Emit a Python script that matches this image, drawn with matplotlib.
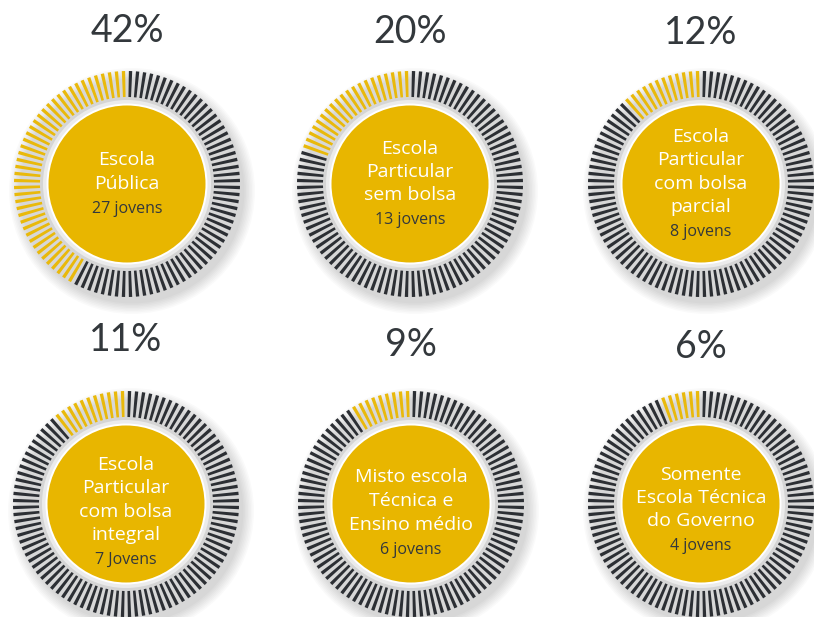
import numpy as np
import matplotlib
matplotlib.use("Agg")
import matplotlib.pyplot as plt
from matplotlib.patches import Wedge, Circle

plt.rcParams['font.family'] = ['Lato', 'DejaVu Sans']

# dados: percentual de jovens por tipo de escola
percentuais = [42, 20, 12, 11, 9, 6]
titulos = [
    "Escola\nPública",
    "Escola\nParticular\nsem bolsa",
    "Escola\nParticular\ncom bolsa\nparcial",
    "Escola\nParticular\ncom bolsa\nintegral",
    "Misto escola\nTécnica e\nEnsino médio",
    "Somente\nEscola Técnica\ndo Governo",
]
contagens = ["27 jovens", "13 jovens", "8 jovens", "7 Jovens", "6 jovens", "4 jovens"]

# layout (pixels)
centros = [(127, 184), (410, 184), (701, 184), (126, 504), (411, 504), (701, 504)]
y_rotulo = [31, 32, 33, 340, 345, 347]
desloc_texto = [0, 0, 0, 8, 9, 6]

AMARELO = "#e9b90b"
ESCURO = "#2c2f34"
DOURADO = "#e8b600"
TEXTO = "#33383c"

N = 100
R_EXT, R_INT = 113, 87

fig = plt.figure(figsize=(8.14, 6.17), dpi=100)
ax = fig.add_axes([0, 0, 1, 1])
ax.set_xlim(0, 814)
ax.set_ylim(617, 0)
ax.axis('off')

for k, (cx, cy) in enumerate(centros):
    # sombra suave
    for j in range(8):
        ax.add_patch(Circle((cx + 5, cy + 7), R_EXT + 10 - j * 1.5,
                            color="#000000", alpha=0.018, lw=0))

    # anel de tracinhos: amarelo a partir do topo, sentido anti-horario
    for i in range(N):
        ang = 90 + (i + 0.5) * 360 / N
        cor = AMARELO if i < percentuais[k] else ESCURO
        # eixo y invertido: angulo negativo para girar no sentido certo
        ax.add_patch(Wedge((cx, cy), R_EXT, -ang - 0.85, -ang + 0.85,
                           width=R_EXT - R_INT, color=cor, lw=0))

    # aro cinza + branco e disco dourado
    ax.add_patch(Circle((cx, cy), 86, color="#d5d5d5", lw=0))
    ax.add_patch(Circle((cx, cy), 84, color="#ebebeb", lw=0))
    ax.add_patch(Circle((cx, cy), 80.5, color="white", lw=0))
    ax.add_patch(Circle((cx, cy), 78.5, color=DOURADO, lw=0))

    # texto central
    linhas = titulos[k].split("\n")
    n = len(linhas)
    altura = (n - 1) * 23.5 + 24
    y0 = cy - altura / 2 + desloc_texto[k]
    for j, linha in enumerate(linhas):
        ax.text(cx, y0 + j * 23.5, linha, color="white", fontsize=14,
                family=['Open Sans', 'DejaVu Sans'], ha="center", va="center")
    ax.text(cx, y0 + (n - 1) * 23.5 + 25, contagens[k], color=TEXTO,
            fontsize=11.5, family=['Open Sans', 'DejaVu Sans'],
            ha="center", va="center")

    # percentual acima
    ax.text(cx, y_rotulo[k], f"{percentuais[k]}%", color=TEXTO, fontsize=27,
            ha="center", va="center")

fig.savefig("out.png", dpi=100, facecolor="white")
